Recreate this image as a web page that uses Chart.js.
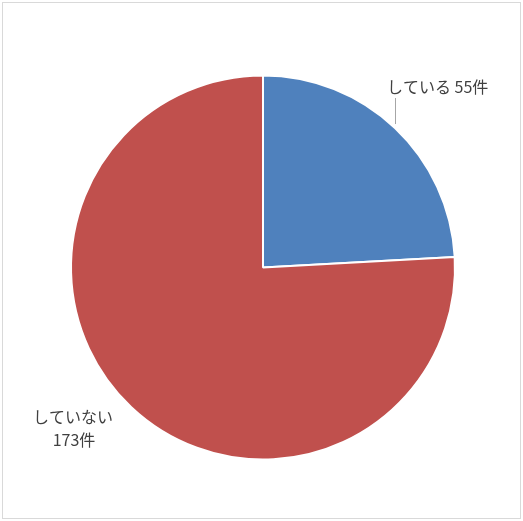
<!DOCTYPE html>
<html>
<head>
<meta charset="utf-8">
<script src="https://cdn.jsdelivr.net/npm/chart.js@4/dist/chart.umd.min.js"></script>
<style>
  html, body { margin: 0; padding: 0; background: #fff; }
  canvas { display: block; }
</style>
</head>
<body>
<canvas id="c" width="523" height="521"></canvas>
<script>
const categories = ["している", "していない"];
const counts = [55, 173];
const unit = "件";
const colors = ["#4F81BD", "#C0504D"];

const FONT = '16px "Noto Sans CJK JP", "Noto Sans", sans-serif';
const TEXT = "#404040";

const labelPlugin = {
  id: "pieLabels",
  beforeDraw(chart) {
    const ctx = chart.ctx;
    ctx.save();
    ctx.fillStyle = "#fff";
    ctx.fillRect(0, 0, chart.width, chart.height);
    ctx.strokeStyle = "#D9D9D9";
    ctx.lineWidth = 1;
    ctx.strokeRect(2.5, 2.5, 518, 516);
    ctx.restore();
  },
  afterDatasetsDraw(chart) {
    const ctx = chart.ctx;
    const meta = chart.getDatasetMeta(0);
    ctx.save();
    ctx.font = FONT;
    ctx.fillStyle = TEXT;
    ctx.textBaseline = "middle";
    meta.data.forEach((arc, i) => {
      const p = arc.getProps(["x", "y", "startAngle", "endAngle", "outerRadius"], true);
      const mid = (p.startAngle + p.endAngle) / 2;
      const ax = p.x + Math.cos(mid) * p.outerRadius;
      const ay = p.y + Math.sin(mid) * p.outerRadius;
      const value = chart.data.datasets[0].data[i];
      const name = chart.data.labels[i];
      if (Math.cos(mid) >= 0) {
        ctx.strokeStyle = "#A6A6A6";
        ctx.lineWidth = 1;
        ctx.beginPath();
        ctx.moveTo(Math.round(ax) + 0.5, ay - 4);
        ctx.lineTo(Math.round(ax) + 0.5, ay - 30);
        ctx.stroke();
        ctx.textAlign = "left";
        ctx.fillText(name + " " + value + unit, ax - 8, ay - 41);
      } else {
        ctx.textAlign = "center";
        ctx.fillText(name, ax - 58, ay + 10);
        ctx.fillText(value + unit, ax - 57, ay + 33);
      }
    });
    ctx.restore();
  }
};

new Chart(document.getElementById("c"), {
  type: "pie",
  data: {
    labels: categories,
    datasets: [{
      data: counts,
      backgroundColor: colors,
      borderColor: "#FFFFFF",
      borderWidth: 2
    }]
  },
  options: {
    responsive: false,
    animation: false,
    layout: { padding: { left: 70, right: 67, top: 74.5, bottom: 60.5 } },
    plugins: {
      legend: { display: false },
      tooltip: { enabled: false },
      title: { display: false }
    }
  },
  plugins: [labelPlugin]
});
</script>
</body>
</html>
